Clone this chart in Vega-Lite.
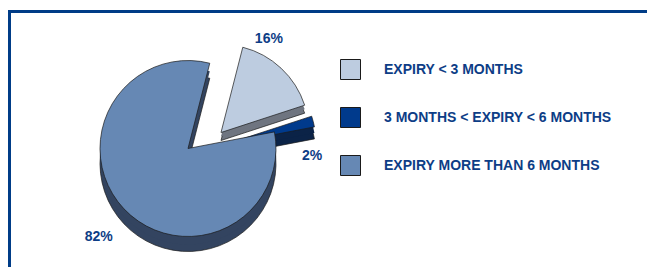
{
  "$schema": "https://vega.github.io/schema/vega-lite/v6.json",
  "width": 647,
  "height": 267,
  "padding": {"left": 9, "top": 11, "right": 0, "bottom": -9},
  "autosize": {"type": "fit", "contains": "padding"},
  "background": "white",
  "view": {"stroke": null},
  "config": {"font": "Liberation Sans"},
  "data": {
    "values": [
      {"label": "EXPIRY < 3 MONTHS", "value": 16, "pct": "16%", "order": 1},
      {"label": "3 MONTHS < EXPIRY < 6 MONTHS", "value": 2, "pct": "2%", "order": 2},
      {"label": "EXPIRY MORE THAN 6 MONTHS", "value": 82, "pct": "82%", "order": 3}
    ]
  },
  "layer": [
    {
      "mark": {"type": "point", "opacity": 0, "size": 0},
      "encoding": {
        "x": {"datum": 0.5, "type": "quantitative", "scale": {"domain": [0, 1]},
          "axis": {"orient": "top", "domain": true, "domainColor": "#003C87", "domainWidth": 3, "domainCap": "square", "ticks": false, "labels": false, "grid": false, "title": null}},
        "y": {"datum": 0.5, "type": "quantitative", "scale": {"domain": [0, 1]},
          "axis": {"orient": "left", "domain": true, "domainColor": "#003C87", "domainWidth": 3, "domainCap": "square", "ticks": false, "labels": false, "grid": false, "title": null}}
      }
    },
    {
      "mark": {"type": "arc", "radius": 88, "color": "#6F7580", "stroke": "#1a1a1a", "strokeWidth": 0.7, "xOffset": -107, "yOffset": 1},
      "encoding": {
        "theta": {"field": "value", "type": "quantitative", "stack": true, "scale": {"range": [0.25, 6.5332]}},
        "order": {"field": "order", "type": "ordinal"},
        "fillOpacity": {"condition": {"test": "datum.order === 1", "value": 1}, "value": 0},
        "strokeOpacity": {"condition": {"test": "datum.order === 1", "value": 1}, "value": 0}
      }
    },
    {
      "mark": {"type": "arc", "radius": 88, "color": "#6F7580", "strokeWidth": 0, "xOffset": -107, "yOffset": -3},
      "encoding": {
        "theta": {"field": "value", "type": "quantitative", "stack": true},
        "order": {"field": "order", "type": "ordinal"},
        "fillOpacity": {"condition": {"test": "datum.order === 1", "value": 1}, "value": 0}
      }
    },
    {
      "mark": {"type": "arc", "radius": 88, "stroke": "#1a1a1a", "strokeWidth": 0.7, "xOffset": -107, "yOffset": -7},
      "encoding": {
        "theta": {"field": "value", "type": "quantitative", "stack": true},
        "order": {"field": "order", "type": "ordinal"},
        "color": {"field": "label", "type": "nominal", "sort": null,
          "scale": {"domain": ["EXPIRY < 3 MONTHS", "3 MONTHS < EXPIRY < 6 MONTHS", "EXPIRY MORE THAN 6 MONTHS"], "range": ["#BDCCE0", "#003A8C", "#6688B4"]},
          "legend": {
            "orient": "none", "legendX": 331, "legendY": 48, "title": null, "padding": 0,
            "symbolType": "square", "symbolSize": 400, "symbolStrokeColor": "#1F3F73", "symbolStrokeWidth": 1, "symbolOpacity": 1,
            "labelFont": "Liberation Sans", "labelFontSize": 14, "labelFontWeight": "bold", "labelColor": "#0D3D86",
            "labelOffset": 23, "rowPadding": 23, "labelLimit": 400,
            "labelExpr": "datum.label === 'EXPIRY MORE THAN 6 MONTHS' ? '\u00a0\u00a0' + datum.label : datum.label"
          }
        },
        "fillOpacity": {"condition": {"test": "datum.order === 1", "value": 1}, "value": 0},
        "strokeOpacity": {"condition": {"test": "datum.order === 1", "value": 1}, "value": 0}
      }
    },
    {
      "mark": {"type": "arc", "radius": 88, "color": "#0B2347", "stroke": "#1a1a1a", "strokeWidth": 0.7, "xOffset": -100, "yOffset": 16},
      "encoding": {
        "theta": {"field": "value", "type": "quantitative", "stack": true},
        "order": {"field": "order", "type": "ordinal"},
        "fillOpacity": {"condition": {"test": "datum.order === 2", "value": 1}, "value": 0},
        "strokeOpacity": {"condition": {"test": "datum.order === 2", "value": 1}, "value": 0}
      }
    },
    {
      "mark": {"type": "arc", "radius": 88, "color": "#0B2347", "strokeWidth": 0, "xOffset": -100, "yOffset": 10},
      "encoding": {
        "theta": {"field": "value", "type": "quantitative", "stack": true},
        "order": {"field": "order", "type": "ordinal"},
        "fillOpacity": {"condition": {"test": "datum.order === 2", "value": 1}, "value": 0}
      }
    },
    {
      "mark": {"type": "arc", "radius": 88, "stroke": "#1a1a1a", "strokeWidth": 0.7, "xOffset": -100, "yOffset": 4},
      "encoding": {
        "theta": {"field": "value", "type": "quantitative", "stack": true},
        "order": {"field": "order", "type": "ordinal"},
        "color": {"field": "label", "type": "nominal", "sort": null},
        "fillOpacity": {"condition": {"test": "datum.order === 2", "value": 1}, "value": 0},
        "strokeOpacity": {"condition": {"test": "datum.order === 2", "value": 1}, "value": 0}
      }
    },
    {
      "mark": {"type": "arc", "radius": 88, "color": "#334460", "stroke": "#1a1a1a", "strokeWidth": 0.7, "xOffset": -140, "yOffset": 24},
      "encoding": {
        "theta": {"field": "value", "type": "quantitative", "stack": true},
        "order": {"field": "order", "type": "ordinal"},
        "fillOpacity": {"condition": {"test": "datum.order === 3", "value": 1}, "value": 0},
        "strokeOpacity": {"condition": {"test": "datum.order === 3", "value": 1}, "value": 0}
      }
    },
    {
      "mark": {"type": "arc", "radius": 88, "color": "#334460", "strokeWidth": 0, "xOffset": -140, "yOffset": 17},
      "encoding": {
        "theta": {"field": "value", "type": "quantitative", "stack": true},
        "order": {"field": "order", "type": "ordinal"},
        "fillOpacity": {"condition": {"test": "datum.order === 3", "value": 1}, "value": 0}
      }
    },
    {
      "mark": {"type": "arc", "radius": 88, "stroke": "#1a1a1a", "strokeWidth": 0.7, "xOffset": -140, "yOffset": 9},
      "encoding": {
        "theta": {"field": "value", "type": "quantitative", "stack": true},
        "order": {"field": "order", "type": "ordinal"},
        "color": {"field": "label", "type": "nominal", "sort": null},
        "fillOpacity": {"condition": {"test": "datum.order === 3", "value": 1}, "value": 0},
        "strokeOpacity": {"condition": {"test": "datum.order === 3", "value": 1}, "value": 0}
      }
    },
    {
      "mark": {"type": "text", "radius": 130, "font": "Liberation Sans", "fontSize": 14, "fontWeight": "bold", "color": "#0D3D86", "align": "center", "baseline": "middle", "xOffset": -148, "yOffset": -6},
      "encoding": {
        "theta": {"field": "value", "type": "quantitative", "stack": true},
        "order": {"field": "order", "type": "ordinal"},
        "text": {"condition": {"test": "datum.order === 1", "field": "pct"}, "value": ""}
      }
    },
    {
      "mark": {"type": "text", "radius": 125, "font": "Liberation Sans", "fontSize": 14, "fontWeight": "bold", "color": "#0D3D86", "align": "center", "baseline": "middle", "xOffset": -137, "yOffset": 48},
      "encoding": {
        "theta": {"field": "value", "type": "quantitative", "stack": true},
        "order": {"field": "order", "type": "ordinal"},
        "text": {"condition": {"test": "datum.order === 2", "field": "pct"}, "value": ""}
      }
    },
    {
      "mark": {"type": "text", "radius": 128, "font": "Liberation Sans", "fontSize": 14, "fontWeight": "bold", "color": "#0D3D86", "align": "center", "baseline": "middle", "xOffset": -136, "yOffset": 10},
      "encoding": {
        "theta": {"field": "value", "type": "quantitative", "stack": true},
        "order": {"field": "order", "type": "ordinal"},
        "text": {"condition": {"test": "datum.order === 3", "field": "pct"}, "value": ""}
      }
    }
  ]
}
